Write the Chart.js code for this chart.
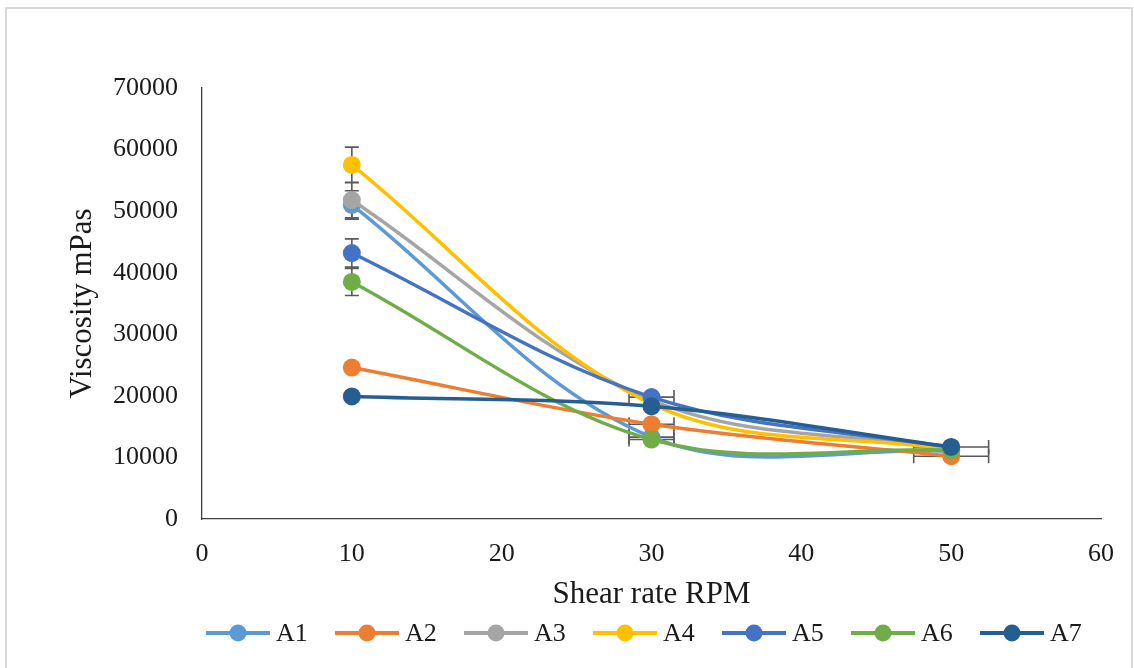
<!DOCTYPE html>
<html>
<head>
<meta charset="utf-8">
<script src="https://cdn.jsdelivr.net/npm/chart.js@4.4.1/dist/chart.umd.min.js"></script>
<style>
html, body { margin: 0; padding: 0; background: #ffffff; }
#frame { position: absolute; left: 5px; top: 7px; width: 1128px; height: 720px; border: 2px solid #d9d9d9; box-sizing: border-box; }
#wrap { position: absolute; left: 0; top: 0; width: 1134px; height: 668px; }
</style>
</head>
<body>
<div id="frame"></div>
<div id="wrap"><canvas id="c" width="1134" height="668"></canvas></div>
<script>
// ---- data ----
const shearRate = [10, 30, 50];
const seriesNames = ['A1', 'A2', 'A3', 'A4', 'A5', 'A6', 'A7'];
const A1 = [51000, 13300, 11000];
const A2 = [24600, 15400, 10200];
const A3 = [51800, 19300, 11400];
const A4 = [57500, 18700, 11300];
const A5 = [43200, 19800, 11600];
const A6 = [38500, 12900, 11200];
const A7 = [19900, 18300, 11700];
// vertical error (mPas) and horizontal error (RPM)
const yErrA1 = [2300, 0, 0];
const yErrA2 = [600, 0, 0];
const yErrA3 = [2900, 0, 0];
const yErrA4 = [2900, 0, 0];
const yErrA5 = [2300, 0, 0];
const yErrA6 = [2200, 0, 0];
const yErrA7 = [400, 0, 0];
const xErrA1 = [0, 1.5, 0];
const xErrA2 = [0, 1.5, 2.5];
const xErrA3 = [0, 0, 0];
const xErrA4 = [0, 0, 0];
const xErrA5 = [0, 1.5, 0];
const xErrA6 = [0, 1.5, 0];
const xErrA7 = [0, 0, 2.5];
const xTickValues = [0, 10, 20, 30, 40, 50, 60];
const yTickValues = [0, 10000, 20000, 30000, 40000, 50000, 60000, 70000];
const xTitle = 'Shear rate RPM';
const yTitle = 'Viscosity mPas';

// ---- styles ----
const colors = ['#5B9BD5', '#ED7D31', '#A5A5A5', '#FFC000', '#4472C4', '#70AD47', '#255E91'];
const values = [A1, A2, A3, A4, A5, A6, A7];
const yErrs = [yErrA1, yErrA2, yErrA3, yErrA4, yErrA5, yErrA6, yErrA7];
const xErrs = [xErrA1, xErrA2, xErrA3, xErrA4, xErrA5, xErrA6, xErrA7];
const FONT = "'Liberation Serif', 'Times New Roman', serif";
const TEXT = '#1a1a1a';

const datasets = seriesNames.map((name, i) => ({
  label: name,
  data: shearRate.map((x, j) => ({ x: x, y: values[i][j] })),
  borderColor: colors[i],
  backgroundColor: colors[i],
  borderWidth: 3.5,
  pointRadius: 9,
  pointHoverRadius: 9,
  pointBorderWidth: 0,
  tension: 0.35,
  showLine: true,
  order: seriesNames.length - i,
  yErr: yErrs[i],
  xErr: xErrs[i]
}));

const errorBarPlugin = {
  id: 'errorBars',
  beforeDatasetsDraw(chart) {
    const ctx = chart.ctx;
    const xs = chart.scales.x, ys = chart.scales.y;
    const cap = 7;
    ctx.save();
    ctx.strokeStyle = '#5a5a5a';
    ctx.lineWidth = 1.6;
    chart.data.datasets.forEach(ds => {
      ds.data.forEach((p, j) => {
        const px = xs.getPixelForValue(p.x);
        const py = ys.getPixelForValue(p.y);
        const ye = ds.yErr[j], xe = ds.xErr[j];
        if (ye > 0) {
          const t = ys.getPixelForValue(p.y + ye), b = ys.getPixelForValue(p.y - ye);
          ctx.beginPath();
          ctx.moveTo(px, t); ctx.lineTo(px, b);
          ctx.moveTo(px - cap, t); ctx.lineTo(px + cap, t);
          ctx.moveTo(px - cap, b); ctx.lineTo(px + cap, b);
          ctx.stroke();
        }
        if (xe > 0) {
          const l = xs.getPixelForValue(p.x - xe), r = xs.getPixelForValue(p.x + xe);
          ctx.beginPath();
          ctx.moveTo(l, py); ctx.lineTo(r, py);
          ctx.moveTo(l, py - cap); ctx.lineTo(l, py + cap);
          ctx.moveTo(r, py - cap); ctx.lineTo(r, py + cap);
          ctx.stroke();
        }
      });
    });
    ctx.restore();
  }
};

const lineLegendPlugin = {
  id: 'lineLegend',
  afterDraw(chart) {
    const ctx = chart.ctx;
    const startX = 206, period = 129, lineLen = 64, gap = 6, cy = 633;
    ctx.save();
    ctx.font = '26px ' + FONT;
    ctx.textBaseline = 'middle';
    ctx.textAlign = 'left';
    chart.data.datasets.forEach((ds, i) => {
      const x0 = startX + i * period;
      ctx.strokeStyle = ds.borderColor;
      ctx.lineWidth = 4;
      ctx.beginPath();
      ctx.moveTo(x0, cy); ctx.lineTo(x0 + lineLen, cy);
      ctx.stroke();
      ctx.fillStyle = ds.backgroundColor;
      ctx.beginPath();
      ctx.arc(x0 + lineLen / 2, cy, 8.5, 0, Math.PI * 2);
      ctx.fill();
      ctx.fillStyle = TEXT;
      ctx.fillText(ds.label, x0 + lineLen + gap, cy + 1);
    });
    ctx.restore();
  }
};

new Chart(document.getElementById('c'), {
  type: 'scatter',
  data: { datasets: datasets },
  plugins: [errorBarPlugin, lineLegendPlugin],
  options: {
    responsive: false,
    animation: false,
    events: [],
    layout: { padding: { left: 60, right: 33, top: 88, bottom: 53 } },
    plugins: {
      legend: { display: false },
      tooltip: { enabled: false }
    },
    scales: {
      x: {
        type: 'linear',
        min: xTickValues[0],
        max: xTickValues[xTickValues.length - 1],
        afterBuildTicks(scale) { scale.ticks = xTickValues.map(v => ({ value: v })); },
        afterFit(scale) { scale.height = 96; },
        grid: { display: false, drawTicks: false },
        border: { display: true, color: '#404040', width: 1.3 },
        ticks: { color: TEXT, font: { family: FONT, size: 26 }, padding: 20, maxRotation: 0, callback: v => String(v) },
        title: { display: true, text: xTitle, color: TEXT, font: { family: FONT, size: 31 }, padding: { top: 4, bottom: 2 } }
      },
      y: {
        type: 'linear',
        min: yTickValues[0],
        max: yTickValues[yTickValues.length - 1],
        afterBuildTicks(scale) { scale.ticks = yTickValues.map(v => ({ value: v })); },
        afterFit(scale) { scale.width = 142; },
        grid: { display: false, drawTicks: false },
        border: { display: true, color: '#404040', width: 1.3 },
        ticks: { color: TEXT, font: { family: FONT, size: 26 }, padding: 24, callback: v => String(v) },
        title: { display: true, text: yTitle, color: TEXT, font: { family: FONT, size: 31 }, padding: { top: 4, bottom: 4 } }
      }
    }
  }
});
</script>
</body>
</html>
